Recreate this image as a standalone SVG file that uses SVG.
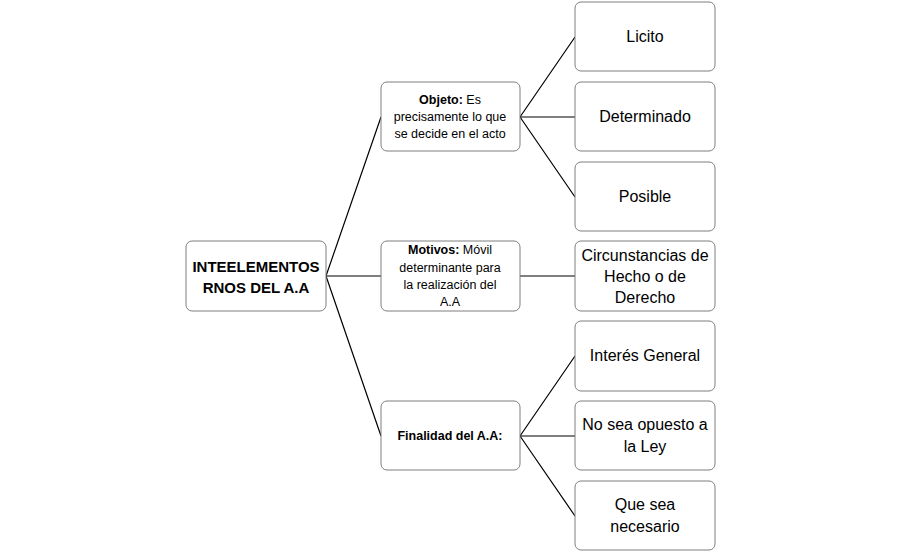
<svg xmlns="http://www.w3.org/2000/svg" width="901" height="553" viewBox="0 0 901 553">
<style>
.b{fill:#fff;stroke:#7f7f7f;stroke-width:1}
.t{font-family:"Liberation Sans",Arial,sans-serif;fill:#000;text-anchor:middle}
.r{font-size:16px}
.m{font-size:12.5px}
.c{stroke:#000;stroke-width:1.2;fill:none}
</style>
<rect width="901" height="553" fill="#fff"/>
<g id="connectors">
<path class="c" d="M326 276L381 117M326 276L381 276M326 276L381 436M520 117L575 37M520 117L575 117M520 117L575 197M520 276L575 276M520 436L575 356M520 436L575 436M520 436L575 516"/>
</g>
<g id="root"><rect class="b" x="186" y="241" width="140" height="70" rx="6"/><text class="t" font-size="15" font-weight="bold" x="256" y="272">INTEELEMENTOS</text><text class="t" font-size="15" font-weight="bold" x="256" y="293">RNOS DEL A.A</text></g>
<g id="objeto"><rect class="b" x="381" y="82" width="139" height="69" rx="6"/><text class="t m" x="450" y="104"><tspan font-weight="bold">Objeto:</tspan> Es</text><text class="t m" x="450" y="121">precisamente lo que</text><text class="t m" x="450" y="138">se decide en el acto</text></g>
<g id="motivos"><rect class="b" x="381" y="241" width="139" height="70" rx="6"/><text class="t m" x="450" y="254"><tspan font-weight="bold">Motivos:</tspan> Móvil</text><text class="t m" x="450" y="272">determinante  para</text><text class="t m" x="450" y="289">la realización del</text><text class="t m" x="450" y="306">A.A</text></g>
<g id="finalidad"><rect class="b" x="381" y="401" width="139" height="69" rx="6"/><text class="t m" font-weight="bold" x="450" y="440">Finalidad del A.A:</text></g>
<g id="licito"><rect class="b" x="575" y="2" width="140" height="69" rx="6"/><text class="t r" x="645" y="42">Licito</text></g>
<g id="determinado"><rect class="b" x="575" y="82" width="140" height="69" rx="6"/><text class="t r" x="645" y="122">Determinado</text></g>
<g id="posible"><rect class="b" x="575" y="162" width="140" height="69" rx="6"/><text class="t r" x="645" y="202">Posible</text></g>
<g id="circunstancias"><rect class="b" x="575" y="241" width="140" height="70" rx="6"/><text class="t r" x="645" y="261">Circunstancias de</text><text class="t r" x="645" y="282">Hecho o de</text><text class="t r" x="645" y="303">Derecho</text></g>
<g id="interes"><rect class="b" x="575" y="321" width="140" height="70" rx="6"/><text class="t r" x="645" y="361">Interés General</text></g>
<g id="opuesto"><rect class="b" x="575" y="401" width="140" height="69" rx="6"/><text class="t r" x="645" y="430">No sea opuesto a</text><text class="t r" x="645" y="452">la Ley</text></g>
<g id="necesario"><rect class="b" x="575" y="481" width="140" height="69" rx="6"/><text class="t r" x="645" y="510">Que sea</text><text class="t r" x="645" y="532">necesario</text></g>
</svg>
